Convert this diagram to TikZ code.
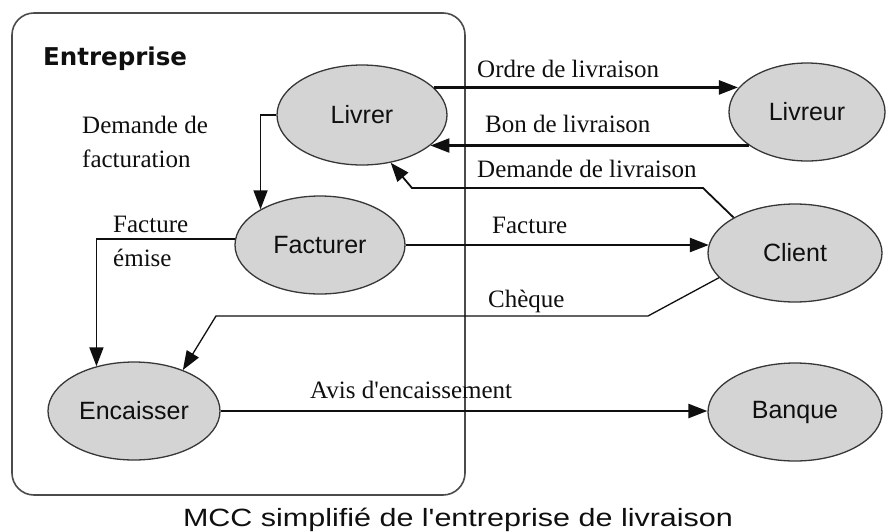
\documentclass[tikz,border=0pt]{standalone}
\usepackage{fontspec}
\setmainfont{Liberation Serif}[Ligatures=TeXOff]
\newfontfamily\nodefont{Liberation Sans}[Ligatures=TeXOff]
\newfontfamily\titlefont{DejaVu Sans}[Ligatures=TeXOff]
\newfontfamily\capfont{Liberation Sans}[Ligatures=TeXOff,FakeStretch=1.22]
\usetikzlibrary{shapes.geometric,arrows.meta}
\definecolor{ellfill}{RGB}{212,212,212}
\definecolor{ellline}{RGB}{55,55,55}
\definecolor{txt}{RGB}{15,15,15}
\definecolor{frame}{RGB}{75,75,75}
\begin{document}
\begin{tikzpicture}[x=1pt,y=-1pt,
  ent/.style={ellipse, draw=ellline, line width=1.3pt, fill=ellfill, inner sep=0pt,
    minimum width=172pt, minimum height=98pt,
    font=\nodefont\fontsize{25}{30}\selectfont, text=txt},
  tip/.style={-{Triangle[length=19pt,width=14pt]}},
  arr/.style={line width=2.4pt, draw=txt, tip},
  midarr/.style={line width=1.8pt, draw=txt, tip},
  thinarr/.style={line width=1.3pt, draw=txt, tip},
  lbl/.style={font=\fontsize{25}{34}\selectfont, text=txt, inner sep=0pt, anchor=base west},
]
\useasboundingbox (0,0) rectangle (889,531);
% frame
\draw[line width=1.6pt, draw=frame, rounded corners=22pt] (12,13) rectangle (465,495);
\node[font=\titlefont\bfseries\fontsize{24.5}{30}\selectfont, text=txt, anchor=base west, inner sep=0pt] (entr) at (43,65) {Entreprise};

% entities
\node[ent, minimum width=170pt, minimum height=100pt] (livrer) at (362,115) {Livrer};
\node[ent, minimum width=170pt] (facturer) at (320,245) {Facturer};
\node[ent] (encaisser) at (134,411) {Encaisser};
\node[ent, minimum width=156pt] (livreur) at (807,112) {Livreur};
\node[ent, minimum width=174pt] (client) at (795,253) {Client};
\node[ent, minimum width=174pt] (banque) at (795,412) {Banque};

% bend points
\coordinate (dl1) at (703,188);
\coordinate (dl2) at (412,188);
\coordinate (ch1) at (648,316);
\coordinate (ch2) at (216,316);

% flows
\draw[arr] (livrer.21) -- (livrer.21 -| livreur.161);
\draw[arr] (livreur.210) -- (livreur.210 -| livrer.336);
\draw[midarr] (client.150) -- (dl1) -- (dl2) -- (livrer.301);
\draw[arr] (facturer.east) -- (facturer.east -| client.174);
\draw[thinarr] (client.198) -- (ch1) -- (ch2) -- (encaisser.40);
\draw[midarr] (livrer.west) -| (facturer.149);
\draw[midarr] (facturer.176) -| (encaisser.130);
\draw[arr] (encaisser.east) -- (encaisser.east -| banque.west);

% labels
\node[lbl] (lordre) at (477,77) {Ordre de livraison};
\node[lbl] (lbon) at (485,132) {Bon de livraison};
\node[lbl] (ldl) at (477,177) {Demande de livraison};
\node[lbl] (lfact) at (492,233) {Facture};
\node[lbl] (lcheque) at (488,307) {Chèque};
\node[lbl] (lavis) at (310,398) {Avis d'encaissement};
\node[lbl, anchor=north west, align=left] (ldf) at (82,116) {Demande de\\facturation};
\node[lbl, anchor=north west, align=left] (lfe) at (113,216) {Facture\\émise};

% caption
\node[font=\capfont\fontsize{25}{30}\selectfont, text=txt, anchor=base, inner sep=0pt] (cap) at (458,526) {MCC simplifié de l'entreprise de livraison};
\end{tikzpicture}
\end{document}
